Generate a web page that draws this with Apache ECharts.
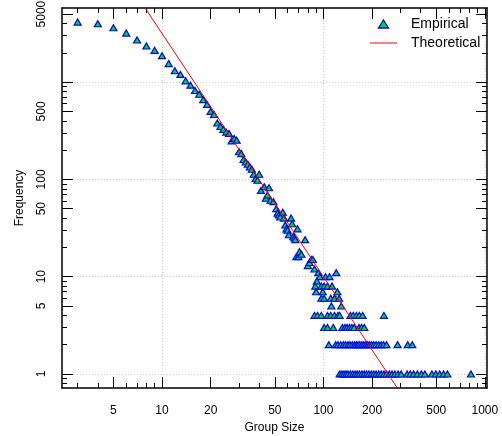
<!DOCTYPE html>
<html>
<head>
<meta charset="utf-8">
<script src="https://cdn.jsdelivr.net/npm/echarts@6/dist/echarts.min.js"></script>
<style>
html,body{margin:0;padding:0;background:#ffffff;}
#chart{width:502px;height:436px;}
</style>
</head>
<body>
<div id="chart"></div>
<script>
// ---------------- data ----------------
const groupSize = [
  3,4,5,6,7,8,9,10,11,12,
  13,14,15,16,17,18,19,20,21,22,
  23,24,25,26,27,28,29,30,31,32,
  33,34,35,36,37,38,39,40,41,
  43,44,45,46,47,49,
  51,52,53,54,
  56,57,58,59,60,61,
  63,64,65,66,67,69,
  68,70,71,73,77,80,82,84,86,88,
  93,120,95,103,109,91,89,97,101,106,
  113,90,99,122,97,101,111,117,125,112,
  129,
  88,92,97,106,111,117,123,126,147,153,160,167,175,237,
  101,106,115,131,136,140,145,150,155,166,172,179,
  108,119,123,128,133,137,142,146,151,156,160,164,168,173,178,183,188,193,199,205,212,220,228,236,246,288,333,355,
  126,130,134,138,142,147,152,157,162,167,173,179,185,191,198,205,212,220,228,237,246,256,266,277,290,303,330,345,362,382,404,425,470,497,525,555,586,820
];
const frequency = [
  4140,3980,3620,3190,2710,2350,2120,1870,1550,1310,
  1200,1030,930,820,750,660,590,500,465,380,
  350,327,306,297,249,263,253,192,184,160,
  151,143,134,127,113,102,98,113,77,
  84,64,69,82,61,59,
  50,45,43,41,
  46,40,34,31,30,27,
  40,35,26,25,24,31,
  16,16,18,17,24,13,14,15,15,12,
  11,11,10,10,10,9,8,8,8,8,
  8,7,7,7,6,6,6,6,6,5,
  5,
  4,4,4,4,4,4,4,4,4,4,4,4,4,4,
  3,3,3,3,3,3,3,3,3,3,3,3,
  2,2,2,2,2,2,2,2,2,2,2,2,2,2,2,2,2,2,2,2,2,2,2,2,2,2,2,2,
  1,1,1,1,1,1,1,1,1,1,1,1,1,1,1,1,1,1,1,1,1,1,1,1,1,1,1,1,1,1,1,1,1,1,1,1,1,1
];
// theoretical power-law line, two points
const theoreticalSize = [5, 400];
const theoreticalFreq = [17900, 0.3125];

// axis limits and ticks
const xLimits = [2.4, 1031];
const yLimits = [0.717, 5776];
const xLabels = [5, 10, 20, 50, 100, 200, 500, 1000];
const xMajorTicks = [5, 10, 20, 50, 100, 200, 500, 1000];
const xMinorTicks = [3, 4, 6, 7, 8, 9, 30, 40, 60, 70, 80, 90, 300, 400, 600, 700, 800, 900];
const xGridLines = [10, 100, 1000];
const yLabels = [1, 5, 10, 50, 100, 500, 5000];
const yMajorTicks = [1, 5, 10, 50, 100, 500, 1000, 5000];
const yMinorTicks = [0.8, 0.9, 2, 3, 4, 6, 7, 8, 9, 20, 30, 40, 60, 70, 80, 90,
                     200, 300, 400, 600, 700, 800, 900, 2000, 3000, 4000];
const yGridLines = [1, 10, 100, 1000];

// ---------------- chart ----------------
const FONT = "'Liberation Sans', Arial, Helvetica, sans-serif";
const fmt = v => String(+(+v).toPrecision(6));

function logAxis(limits, position, extra) {
  return Object.assign({
    type: 'log', logBase: 10, gridIndex: 0,
    min: limits[0], max: limits[1], position: position,
    axisLine: {show: false, onZero: false},
    axisTick: {show: false},
    axisLabel: {show: false},
    splitLine: {show: false},
    minorTick: {show: false},
    minorSplitLine: {show: false},
    axisPointer: {show: false},
    silent: true
  }, extra);
}
function ticks(vals, len) {
  return {show: true, inside: true, length: len, customValues: vals,
          lineStyle: {color: '#000', width: 1}};
}
const frame = {show: true, onZero: false, lineStyle: {color: '#000', width: 1.5}};
const grayDots = {show: true, lineStyle: {color: '#cfcfcf', width: 1, type: [1, 2]}};
const nameStyle = {color: '#000', fontSize: 12, fontFamily: FONT};

const chart = echarts.init(document.getElementById('chart'), null, {renderer: 'canvas'});
chart.setOption({
  animation: false,
  backgroundColor: '#ffffff',
  grid: {left: 62, right: 15, top: 8, bottom: 48, containLabel: false, outerBoundsMode: 'none'},
  xAxis: [
    logAxis(xLimits, 'bottom', {
      axisLine: frame, axisTick: ticks(xMajorTicks, 11),
      axisLabel: {show: true, customValues: xLabels, formatter: fmt, margin: 17,
                  color: '#000', fontSize: 12, fontFamily: FONT},
      name: 'Group Size', nameLocation: 'middle', nameGap: 33, nameTextStyle: nameStyle
    }),
    logAxis(xLimits, 'bottom', {axisTick: ticks(xMinorTicks, 5)}),
    logAxis(xLimits, 'top', {axisLine: frame, axisTick: ticks(xMajorTicks, 11)}),
    logAxis(xLimits, 'top', {axisTick: ticks(xMinorTicks, 5)}),
    logAxis(xLimits, 'bottom', {axisTick: {show: false, customValues: xGridLines}, splitLine: grayDots})
  ],
  yAxis: [
    logAxis(yLimits, 'left', {
      axisLine: frame, axisTick: ticks(yMajorTicks, 11),
      axisLabel: {show: true, customValues: yLabels, formatter: fmt, margin: 14.5, rotate: 90,
                  color: '#000', fontSize: 12, fontFamily: FONT},
      name: 'Frequency', nameLocation: 'middle', nameGap: 36, nameTextStyle: nameStyle
    }),
    logAxis(yLimits, 'left', {axisTick: ticks(yMinorTicks, 5)}),
    logAxis(yLimits, 'right', {axisLine: frame, axisTick: ticks(yMajorTicks, 11)}),
    logAxis(yLimits, 'right', {axisTick: ticks(yMinorTicks, 5)}),
    logAxis(yLimits, 'left', {axisTick: {show: false, customValues: yGridLines}, splitLine: grayDots})
  ],
  legend: {
    show: true, orient: 'vertical', left: 370, top: 17, padding: 0,
    itemGap: 5, itemWidth: 27, itemHeight: 8, selectedMode: false,
    symbolKeepAspect: true,
    textStyle: {color: '#000', fontSize: 14, fontFamily: FONT, lineHeight: 14, padding: [0, 0, 0, 9]},
    data: [
      {name: 'Empirical', icon: 'path://M0,-4L5,4L-5,4Z',
       itemStyle: {color: '#00e000', borderColor: '#0000ff', borderWidth: 1.3}},
      {name: 'Theoretical', icon: 'path://M0,0L27,0L27,1L0,1Z',
       itemStyle: {color: '#ff0000', borderWidth: 0, borderColor: '#ff0000'}}
    ]
  },
  series: [
    {
      name: 'Empirical', type: 'scatter', xAxisIndex: 0, yAxisIndex: 0,
      symbol: 'triangle', symbolSize: [7, 6], z: 3, silent: true,
      itemStyle: {color: '#00e000', borderColor: '#0000ff', borderWidth: 1.2, opacity: 1},
      data: groupSize.map((g, i) => [g, frequency[i]])
    },
    {
      name: 'Theoretical', type: 'line', xAxisIndex: 0, yAxisIndex: 0,
      symbol: 'none', showSymbol: false, clip: true, z: 4, silent: true,
      lineStyle: {color: '#ff0000', width: 1},
      itemStyle: {color: '#ff0000'},
      data: theoreticalSize.map((g, i) => [g, theoreticalFreq[i]])
    }
  ]
});
</script>
</body>
</html>
